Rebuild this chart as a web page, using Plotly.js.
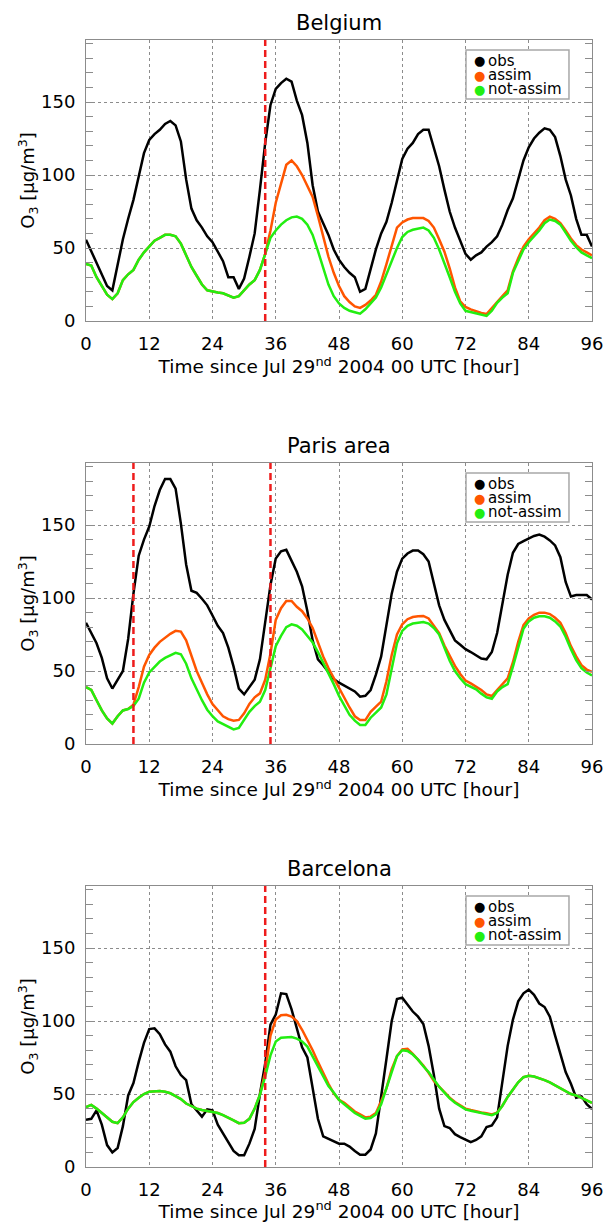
<!DOCTYPE html>
<html>
<head>
<meta charset="utf-8">
<script src="https://cdn.plot.ly/plotly-3.0.1.min.js"></script>
<style>html,body{margin:0;padding:0;background:#fff;}</style>
</head>
<body>
<div id="chart" style="width:603px;height:1222px;"></div>
<script>
// ---------------- DATA ----------------
const hours = [0,1,2,3,4,5,6,7,8,9,10,11,12,13,14,15,16,17,18,19,20,21,22,23,24,25,26,27,28,29,30,31,32,33,34,35,36,37,38,39,40,41,42,43,44,45,46,47,48,49,50,51,52,53,54,55,56,57,58,59,60,61,62,63,64,65,66,67,68,69,70,71,72,73,74,75,76,77,78,79,80,81,82,83,84,85,86,87,88,89,90,91,92,93,94,95,96];
const xTickVals = [0, 12, 24, 36, 48, 60, 72, 84, 96];

const panelTitles = ['Belgium', 'Paris area', 'Barcelona'];
const seriesNames = ['obs', 'assim', 'not-assim'];

const belgiumObs = [55.7,48,40,32,24,21,38,56,70,83,
  99,115,124,128,131,135,137,134,123,97,
  77,69,64,58,54,47,41,30,30,22,
  29,44,60,90,122,148,159,163,166,164,
  151,141,122,93,75,67,59,49,42,37,
  33,30,20,22,35,49,60,68,81,96,
  111,118,122,128,131,131,119,106,90,75,
  64,55,46,42,45,47,51,54,58,66,
  76,84,97,110,119,125,129,132,131,126,
  113,97,86,70,59,59,51];
const belgiumAssim = [39,38,30,24,18,15,19,28,32,35,
  42,47,51,55,57,59,59,58,53,45,
  37,31,25,21,20,19.5,19,17.5,16,17,
  21,25,28,35,46,62,81,95,107,110,
  106,100,93,85,72,57,44,33,24,17,
  13,10,9,11,14,18,27,39,51,64,
  67.5,69.5,70.5,70.5,70.5,68.5,64,56,47.5,36,
  23,13.5,9.6,8,6.6,5.5,4.8,9,13.5,17,
  21,34,43,51,56,60,64,69,71.5,70,
  67,62,56.5,52,49,47,45];
const belgiumNot = [39,38,30,24,18,15,19,28,32,35,
  42,47,51,55,57,59,59,58,53,45,
  37,31,25,21,20,19.5,19,17.5,16,17,
  21,25,28,35,46,57,62,66,69,71,
  71.5,70,66,59,48,37,25,17,12,9,
  7,6,5,8,12,16,23,32,41,50,
  57.5,61,62.5,63.5,64,62,57,49,40,30,
  20,12,7,6,5,4,3.5,7,12.5,16,
  19,33,41,49,54,58,62,67,69.5,68.5,
  66,60.5,55,50.5,47,45,43];
const belgiumMarks = [34];

const parisObs = [83,76,69,59,45,38,44,50,72,103,
  129,140,149,163,174,181.5,181.5,175,151,123,
  105,103.5,99.5,95,88,81,76,66,53,38,
  34,39,44,58,85,109,127,132,133,126,
  118,108,91,71,58,54,49.5,44.5,42,40,
  38.5,36,32.4,33,37,47.5,60,80.4,103,118,
  127,130.5,132.5,132.5,130,125,110,95,85,78,
  71,68,65,63,61,58.5,58,63,76,95,
  116,131,137,139,141,142.5,143.5,142,139.5,136,
  128,111,101,102,102,102,99];
const parisAssim = [39,37,30,23,17.5,14,19,23,24,27,
  39,53,61,66,70,73,75.5,77.5,77,71,
  60,50,42,34,27.4,23,19,17,16,16.5,
  21,27.5,32,34.7,44,62,85,93,98,98,
  94,91,86,79.5,69,60,52,45,38,31,
  25,19,16.4,16.4,22,25.6,29,43,61,75,
  82,85.5,87,87.5,87.7,86,81,76,67.5,60,
  53.5,48,43.5,41.5,39.5,37,34,32.9,37,41,
  45,56,70,81.5,86,88.5,90,90,89,86.5,
  83,76,67,60,54,51,49.5];
const parisNot = [39,37,30,23,17.5,14,19,23,24,26,
  31,42,49,53,56.5,59,60.5,62.5,61.5,55,
  45,37,30,23.5,19,15.5,13.5,11.5,10,11,
  17,22,26,29,37,52,67,74,80,82,
  81,78.5,74,69.5,63,56,48,41,33,26,
  20,16,13,13,18,21.5,25,34,52,69,
  77.5,81,82.5,83,83.5,82.5,79.5,75,65.5,57,
  50,45,41,39.5,37.5,34.5,32,31,36,39,
  41,53,66,79,84,86.5,87.5,87.5,86.5,84,
  80.5,73.5,65,57.5,52,49,47];
const parisMarks = [9, 35];

const barcelonaObs = [32.4,33,38.8,29,15,10,13,28,49,57.5,
  72,85,94.5,95,91,84,79,69,63,59.5,
  43,39,34.5,39.5,38.8,29,23.3,17.5,11,8,
  8,16,26,50,71,97.5,104.5,119,118.5,108,
  95,82,75,55,33,21,19.3,17.5,16,16,
  14,11,8.4,8.4,12,23,47,74,100,115,
  116,111,106.5,103,98,83,63,40,28,26.7,
  22.5,20.5,18.5,17,18.5,21,27.4,28.5,34,58,
  83,101,113.5,119,121.5,118,112,109.6,103,90,
  78,65,57,47.5,48.4,43,39.7];
const barcelonaAssim = [41,42.5,40,37,33.5,31,30,34,40,44.5,
  47.5,50,51.6,52,52,51.5,50.5,48.5,46.5,43.5,
  41.5,40,39,38.5,38,37,35.5,34,32,30,
  30.3,33,40,49.5,65,90,101,104,104.3,103,
  100,94,87.5,80,72,64.4,57,50.5,46,44,
  41,38,36,34,34.5,37,45,54,67,76,
  80.5,81,77.5,73.5,69.5,64.5,59,55,51,47.5,
  44.5,42,40,39,38,37.3,36.8,36,37.3,42,
  48,53,58,61.5,62.5,62,61,59.5,58,56,
  54,52,50,49,47.5,46,44];
const barcelonaNot = [41,42.5,40,37,33.5,31,30,34,40,44.5,
  47.5,50,51.6,52,52,51.5,50.5,48.5,46.5,43.5,
  41.5,40,39,38.5,38,37,35.5,34,32,30,
  30.3,33,40,49.5,62,76.5,86,88.5,89,89,
  88,86,82.5,76,69,62.5,55.5,51,46,43,
  40,37,35,33,33.5,36,43,54,66,76,
  80,79.5,77,73.5,69,65,60,55,51,47,
  44,41.5,39.5,38.5,37.7,37,36.5,35.5,37,42,
  48,53,58,61.5,62.5,62,61,59.5,58,56,
  54,52,50,49,47.5,46,44];
const barcelonaMarks = [34];

// ---------------- STYLE ----------------
const FONT = 'DejaVu Sans, Liberation Sans, sans-serif';
const colors = ['#000000', '#ff5500', '#22ee11'];
const gridCol = '#8c8c8c';
const xTitle = 'Time since Jul 29<sup>nd</sup> 2004 00 UTC [hour]';
const yTitle = 'O<sub>3</sub> [μg/m<sup>3</sup>]';

const panels = [
  {obs: belgiumObs, assim: belgiumAssim, not: belgiumNot, marks: belgiumMarks},
  {obs: parisObs, assim: parisAssim, not: parisNot, marks: parisMarks},
  {obs: barcelonaObs, assim: barcelonaAssim, not: barcelonaNot, marks: barcelonaMarks}
];
const domains = [[0.75067, 1], [0.37533, 0.62467], [0, 0.24934]];

const traces = [];
const layout = {
  width: 603, height: 1222,
  margin: {l: 86, r: 11, t: 40, b: 55},
  paper_bgcolor: '#ffffff', plot_bgcolor: '#ffffff',
  showlegend: false,
  font: {family: FONT, color: '#000'},
  annotations: [], shapes: []
};

panels.forEach((p, i) => {
  const sfx = i === 0 ? '' : String(i + 1);
  const xa = 'x' + sfx, ya = 'y' + sfx;
  [p.obs, p.assim, p.not].forEach((vals, k) => {
    traces.push({
      type: 'scatter', mode: 'lines', x: hours, y: vals,
      xaxis: xa, yaxis: ya, name: seriesNames[k],
      line: {color: colors[k], width: 2.5},
      hoverinfo: 'skip'
    });
  });
  layout['xaxis' + sfx] = {
    domain: [0, 1], anchor: ya, range: [0, 96],
    tickmode: 'array', tickvals: xTickVals,
    showgrid: true, gridcolor: gridCol, griddash: 'dot', gridwidth: 1,
    showline: true, linecolor: gridCol, linewidth: 1, mirror: true,
    ticks: '', zeroline: false,
    tickfont: {family: FONT, size: 18, color: '#000'},
    ticklabelstandoff: 6, ticklabeloverflow: 'allow',
    title: {text: xTitle, font: {family: FONT, size: 18.5, color: '#000'}, standoff: 6}
  };
  layout['yaxis' + sfx] = {
    domain: domains[i], anchor: xa, range: [0, 192.5],
    tickmode: 'linear', tick0: 0, dtick: 50,
    ticks: 'inside', ticklen: 7, tickcolor: gridCol, tickwidth: 1,
    minor: {tick0: 0, dtick: 10, ticks: 'inside', ticklen: 7, tickcolor: gridCol, tickwidth: 1, showgrid: false},
    showgrid: true, gridcolor: gridCol, griddash: 'dot', gridwidth: 1,
    showline: true, linecolor: gridCol, linewidth: 1, mirror: 'ticks',
    zeroline: false,
    tickfont: {family: FONT, size: 18, color: '#000'},
    ticklabelstandoff: 6,
    title: {text: yTitle, font: {family: FONT, size: 18, color: '#000'}, standoff: 0}
  };
  const xd = xa + ' domain', yd = ya + ' domain';
  // panel title
  layout.annotations.push({
    xref: xd, yref: yd, x: 0.5, y: 1, xanchor: 'center', yanchor: 'middle', yshift: 17,
    text: panelTitles[i], showarrow: false, font: {family: FONT, size: 21, color: '#000'}
  });
  // assimilation time markers
  p.marks.forEach(m => {
    layout.shapes.push({
      type: 'line', xref: xa, yref: yd, x0: m, x1: m, y0: 0, y1: 1,
      line: {color: '#ee1c1c', width: 2.5, dash: '7px,4px'}
    });
  });
  // legend box
  layout.shapes.push({
    type: 'rect', xref: xd, yref: yd, x0: 0.751, x1: 0.9545, y0: 0.79, y1: 0.9644,
    line: {color: '#a8a8a8', width: 1.5}, fillcolor: '#ffffff', layer: 'above'
  });
  const rowY = [0.9253, 0.8744, 0.8246];
  seriesNames.forEach((nm, k) => {
    layout.annotations.push({
      xref: xd, yref: yd, x: 0.7767, y: rowY[k], xanchor: 'center', yanchor: 'middle',
      text: '●', showarrow: false, font: {family: FONT, size: 13, color: colors[k]}
    });
    layout.annotations.push({
      xref: xd, yref: yd, x: 0.7905, y: rowY[k], xanchor: 'left', yanchor: 'middle',
      text: nm, showarrow: false, font: {family: FONT, size: 15, color: '#000'}
    });
  });
});

Plotly.newPlot('chart', traces, layout, {displayModeBar: false, staticPlot: true});
</script>
</body>
</html>
